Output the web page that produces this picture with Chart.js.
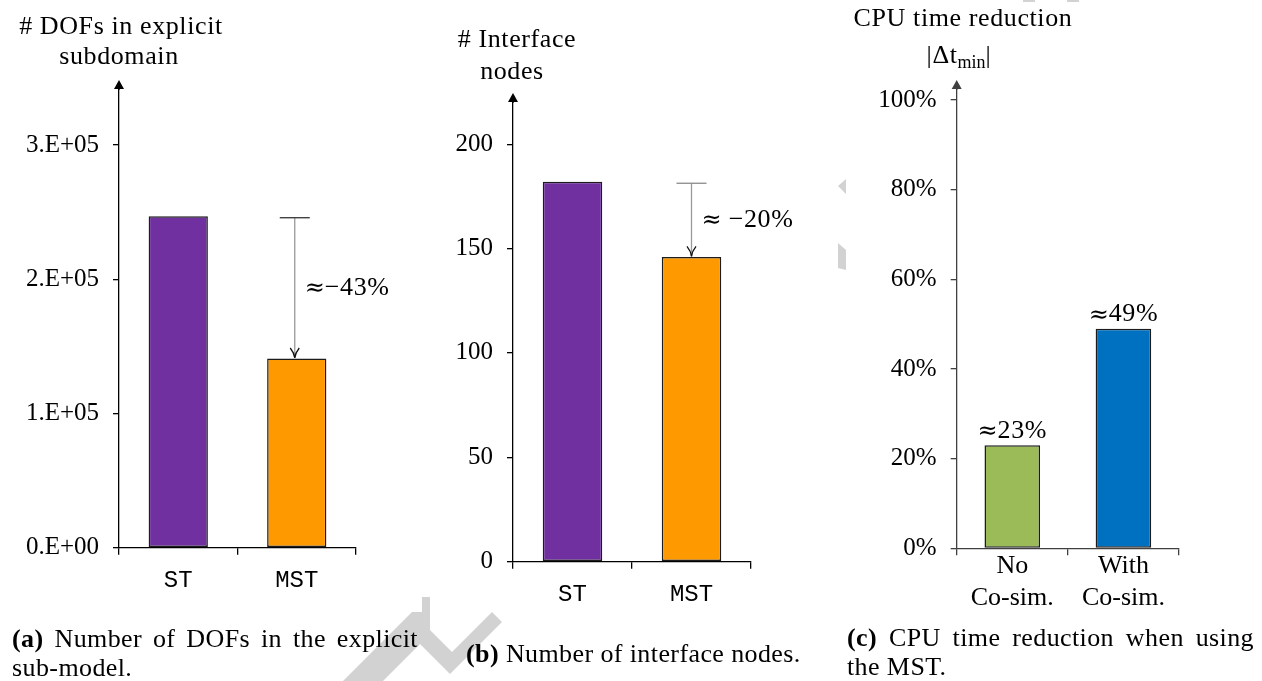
<!DOCTYPE html>
<html>
<head>
<meta charset="utf-8">
<script src="https://cdn.jsdelivr.net/npm/chart.js@4.4.1/dist/chart.umd.min.js"></script>
<style>
  html, body { margin: 0; padding: 0; background: #fff; }
  body { width: 1262px; height: 681px; position: relative; overflow: hidden;
         font-family: "Liberation Serif", serif; color: #000; }
  svg.wm { position: absolute; left: 0; top: 0; }
  canvas.panel { position: absolute; top: 0; }
  .t { position: absolute; width: 400px; text-align: center; white-space: nowrap;
       font-size: 26px; line-height: 30px; letter-spacing: 0.6px; }
  .t sub { font-size: 18px; vertical-align: -5px; line-height: 0; letter-spacing: 0; }
  .cap { position: absolute; font-size: 26px; line-height: 29px; letter-spacing: 0.4px; }
  .cap .j { text-align: justify; text-align-last: justify; }
</style>
</head>
<body>
<svg class="wm" width="1262" height="681">
  <g fill="#d2d2d2">
    <polygon points="343,681 412,612 422,612 422,597 430,597 430,630 452,652 492,612 502,622 450,674 420,644 383,681"/>
    <polygon points="838,186 846,179 846,194"/>
    <polygon points="838,243 846,250 846,270 838,268"/>
    <rect x="1023" y="0" width="12" height="2"/>
    <rect x="1067" y="0" width="12" height="2"/>
  </g>
</svg>

<canvas id="dofChart" class="panel" width="420" height="681" style="left:0px"></canvas>
<canvas id="nodeChart" class="panel" width="420" height="681" style="left:420px"></canvas>
<canvas id="cpuChart" class="panel" width="422" height="681" style="left:840px"></canvas>

<!-- axis titles -->
<div class="t" style="left:-79px;top:11px"># DOFs in explicit</div>
<div class="t" style="left:-81px;top:41px">subdomain</div>
<div class="t" style="left:317px;top:24px"># Interface</div>
<div class="t" style="left:312px;top:56px">nodes</div>
<div class="t" style="left:763px;top:3px">CPU time reduction</div>
<div class="t" style="left:759px;top:40px">|Δt<sub>min</sub>|</div>

<!-- captions -->
<div class="cap" style="left:12px;top:624px;width:406px">
  <div class="j"><b>(a)</b> Number of DOFs in the explicit</div>
  <div>sub-model.</div>
</div>
<div class="cap" style="left:466px;top:639px;width:360px">
  <div><b>(b)</b> Number of interface nodes.</div>
</div>
<div class="cap" style="left:847px;top:623px;width:407px">
  <div class="j"><b>(c)</b> CPU time reduction when using</div>
  <div>the MST.</div>
</div>

<script>
// ---- data ----
const dofCategories = ['ST', 'MST'];
const dofValues = [2.47e5, 1.41e5];
const dofTickValues = [0, 1e5, 2e5, 3e5];

const nodeCategories = ['ST', 'MST'];
const nodeValues = [182, 146];
const nodeTickValues = [0, 50, 100, 150, 200];

const cpuCategories = [['No', 'Co-sim.'], ['With', 'Co-sim.']];
const cpuValues = [23, 49];
const cpuTickValues = [0, 20, 40, 60, 80, 100];

const pairColors = ['#7030A0', '#FF9900'];
const cpuColors = ['#9BBB59', '#0070C0'];

// ---- helpers ----
function sciLabel(v) {
  if (v === 0) return '0.E+00';
  const e = Math.floor(Math.log10(v) + 1e-9);
  const m = Math.round(v / Math.pow(10, e));
  return m + '.E+' + String(e).padStart(2, '0');
}

const APPROX_FONT = '24px "DejaVu Serif"';
const TEXT_FONT = '26px "Liberation Serif"';

// draws "≈" followed by the rest of the label; align 'left' or 'center'
function drawApprox(ctx, rest, x, y, align) {
  ctx.save();
  ctx.textBaseline = 'middle';
  ctx.textAlign = 'left';
  ctx.font = APPROX_FONT;
  const w1 = ctx.measureText('≈').width;
  ctx.font = TEXT_FONT;
  ctx.letterSpacing = '0.6px';
  const w2 = ctx.measureText(rest).width;
  const x0 = align === 'center' ? x - (w1 + w2) / 2 : x;
  ctx.font = APPROX_FONT;
  ctx.letterSpacing = '0px';
  ctx.fillText('≈', x0, y + 1);
  ctx.font = TEXT_FONT;
  ctx.letterSpacing = '0.6px';
  ctx.fillText(rest, x0 + w1, y);
  ctx.restore();
}

// vertical axis ending in a filled arrow head
const axisArrow = {
  id: 'axisArrow',
  afterDraw(chart, args, o) {
    const { ctx, chartArea } = chart;
    const x = chartArea.left;
    ctx.save();
    ctx.strokeStyle = o.color;
    ctx.fillStyle = o.color;
    ctx.lineWidth = 1.3;
    ctx.beginPath();
    ctx.moveTo(x, chartArea.top + 1);
    ctx.lineTo(x, o.tip + 6);
    ctx.stroke();
    ctx.beginPath();
    ctx.moveTo(x, o.tip);
    ctx.lineTo(x - 5, o.tip + 9);
    ctx.lineTo(x + 5, o.tip + 9);
    ctx.closePath();
    ctx.fill();
    ctx.restore();
  }
};

// drop arrow from the first bar's height down to the second bar, with relative change
const dropArrow = {
  id: 'dropArrow',
  afterDatasetsDraw(chart, args, o) {
    if (!o || !o.show) return;
    const { ctx } = chart;
    const vals = chart.data.datasets[0].data;
    const meta = chart.getDatasetMeta(0);
    const ref = meta.data[0], tgt = meta.data[1];
    const x = tgt.x + (o.dx || 0);
    const y0 = ref.y + 1.5;
    const y1 = tgt.y - 0.5;
    ctx.save();
    ctx.lineWidth = 1.3;
    ctx.strokeStyle = '#9a9a9a';
    ctx.beginPath(); ctx.moveTo(x, y0); ctx.lineTo(x, y1); ctx.stroke();
    ctx.strokeStyle = o.capColor;
    ctx.beginPath(); ctx.moveTo(x - 15, y0); ctx.lineTo(x + 15, y0); ctx.stroke();
    ctx.strokeStyle = '#111';
    ctx.beginPath();
    ctx.moveTo(x - 4.5, y1 - 10);
    ctx.quadraticCurveTo(x - 0.5, y1 - 5, x, y1);
    ctx.quadraticCurveTo(x + 0.5, y1 - 5, x + 4.5, y1 - 10);
    ctx.stroke();
    ctx.restore();
    const pct = Math.round((vals[1] - vals[0]) / vals[0] * 100);
    const rest = o.sep + (pct < 0 ? '−' : '+') + Math.abs(pct) + '%';
    drawApprox(ctx, rest, x + 10, (y0 + y1) / 2, 'left');
  }
};

// value labels above bars
const valueLabels = {
  id: 'valueLabels',
  afterDatasetsDraw(chart, args, o) {
    if (!o || !o.show) return;
    const { ctx } = chart;
    const vals = chart.data.datasets[0].data;
    const meta = chart.getDatasetMeta(0);
    meta.data.forEach((bar, i) => {
      drawApprox(ctx, vals[i] + '%', bar.x, bar.y - 14, 'center');
    });
  }
};

function makePanel(id, p) {
  const tickFont = { family: 'Liberation Serif', size: 25 };
  return new Chart(document.getElementById(id), {
    type: 'bar',
    data: {
      labels: p.labels,
      datasets: [{
        data: p.values,
        backgroundColor: p.colors,
        borderColor: '#1c1c1c',
        borderWidth: 1.5,
        borderSkipped: false,
        barPercentage: 0.5,
        categoryPercentage: 1
      }]
    },
    options: {
      responsive: false,
      animation: false,
      events: [],
      layout: { padding: { left: 0, right: p.padRight, top: p.top, bottom: 0 } },
      plugins: {
        legend: { display: false },
        tooltip: { enabled: false },
        axisArrow: { tip: p.tip, color: p.axisColor },
        dropArrow: p.drop || { show: false },
        valueLabels: { show: !!p.valueLabels }
      },
      scales: {
        x: {
          offset: true,
          grid: { display: true, offset: true, drawOnChartArea: false, drawTicks: true,
                  tickLength: 7, color: p.axisColor, tickColor: p.axisColor, lineWidth: 1.3 },
          border: { display: true, color: p.axisColor, width: 1.3 },
          ticks: { font: p.xFont, color: '#000', padding: p.xPad, maxRotation: 0, autoSkip: false },
          afterFit(s) { s.height = p.xHeight; }
        },
        y: {
          min: 0,
          max: p.max,
          grid: { display: true, drawOnChartArea: false, drawTicks: true, tickLength: 6,
                  color: p.axisColor, tickColor: p.axisColor, lineWidth: 1.3 },
          border: { display: true, color: p.axisColor, width: 1.3 },
          ticks: { font: tickFont, color: '#000', padding: 14, callback: p.fmt },
          afterBuildTicks(s) { s.ticks = p.tickValues.map(v => ({ value: v })); },
          afterFit(s) { s.width = p.yWidth; }
        }
      }
    },
    plugins: [axisArrow, dropArrow, valueLabels]
  });
}

const monoFont = { family: 'Liberation Mono', size: 24, lineHeight: 1.2 };

makePanel('dofChart', {
  labels: dofCategories, values: dofValues, colors: pairColors,
  tickValues: dofTickValues, fmt: v => sciLabel(v),
  max: 3.418e5, yWidth: 119, padRight: 64, top: 89, xHeight: 133.3, tip: 80,
  axisColor: '#000', xFont: monoFont, xPad: 11.5,
  drop: { show: true, sep: '', dx: -2, capColor: '#333' }
});

makePanel('nodeChart', {
  labels: nodeCategories, values: nodeValues, colors: pairColors,
  tickValues: nodeTickValues, fmt: v => String(v),
  max: 220.2, yWidth: 93, padRight: 89, top: 102, xHeight: 119.3, tip: 93,
  axisColor: '#000', xFont: monoFont, xPad: 12,
  drop: { show: true, sep: ' ', dx: 0, capColor: '#8a8a8a' }
});

makePanel('cpuChart', {
  labels: cpuCategories, values: cpuValues, colors: cpuColors,
  tickValues: cpuTickValues, fmt: v => v + '%',
  max: 102.45, yWidth: 116.7, padRight: 83, top: 89, xHeight: 132.7, tip: 80,
  axisColor: '#404040', xFont: { family: 'Liberation Serif', size: 26, lineHeight: 32 / 26 }, xPad: -5.5,
  valueLabels: true
});
</script>
</body>
</html>
